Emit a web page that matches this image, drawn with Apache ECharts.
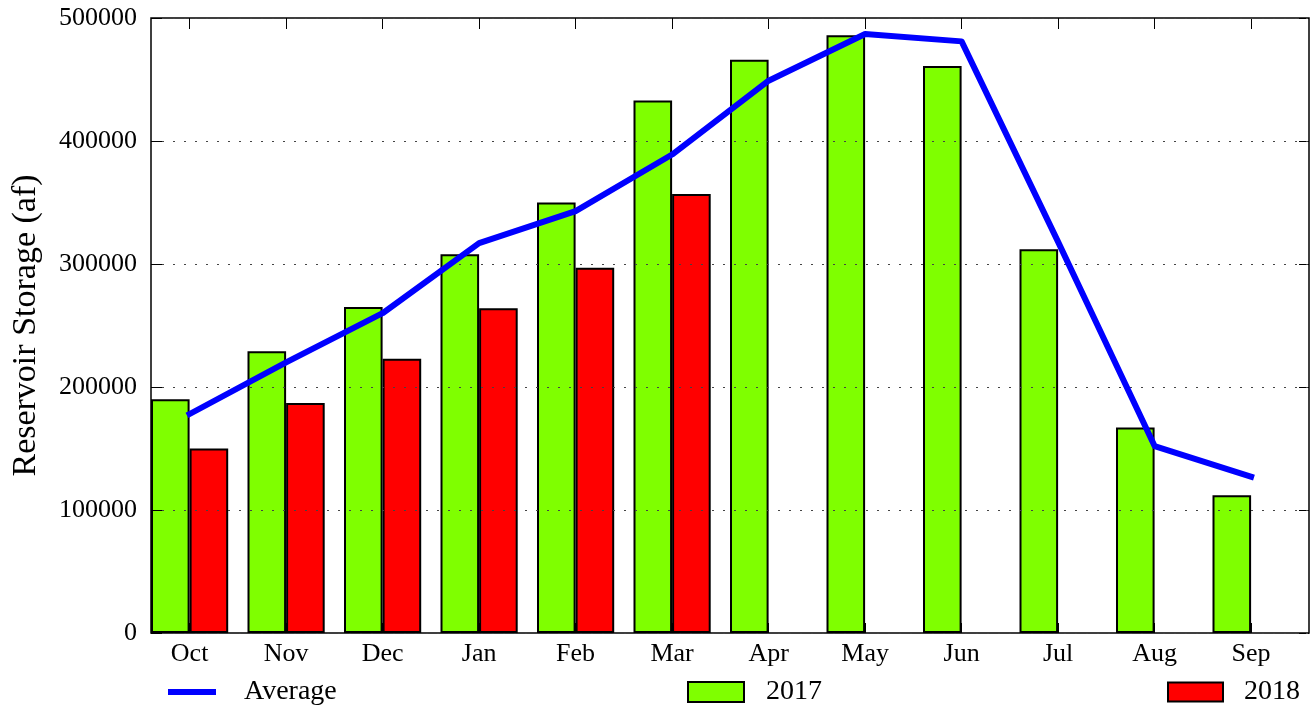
<!DOCTYPE html>
<html>
<head>
<meta charset="utf-8">
<title>Reservoir Storage</title>
<script src="https://cdn.jsdelivr.net/npm/echarts@6/dist/echarts.min.js"></script>
<style>
  html, body { margin: 0; padding: 0; background: #fff; }
  #chart { width: 1313px; height: 706px; }
</style>
</head>
<body>
<div id="chart"></div>
<script>
// Water-year months and monthly reservoir storage (acre-feet)
const months = ['Oct', 'Nov', 'Dec', 'Jan', 'Feb', 'Mar', 'Apr', 'May', 'Jun', 'Jul', 'Aug', 'Sep'];
const storage2017 = [190000, 229000, 265000, 308000, 350000, 433000, 466000, 486000, 461000, 312000, 167000, 112000];
const storage2018 = [150000, 187000, 223000, 264000, 297000, 357000, null, null, null, null, null, null];
const average = [178000, 220000, 260000, 317000, 343000, 389000, 449000, 487000, 481000, 318000, 152000, 127000];
const yTicks = [0, 100000, 200000, 300000, 400000, 500000];

const FONT = '"Liberation Serif", "Times New Roman", serif';
const GREEN = '#7fff00';
const RED = '#ff0000';
const BLUE = '#0000ff';

// Plot frame (grid 0) and a second grid shifted left by a tenth of a
// category so each bar pair starts at the category's left edge.
const frame = { left: 151, right: 4, top: 18, bottom: 73 };
const catW = (1313 - frame.left - frame.right) / months.length;
const shift = catW * 0.1;

const chart = echarts.init(document.getElementById('chart'), null, { renderer: 'canvas' });

const legendBase = {
  top: 673,
  orient: 'horizontal',
  selectedMode: false,
  itemGap: 0,
  textStyle: { fontFamily: FONT, fontSize: 28, color: '#000' }
};

chart.setOption({
  animation: false,
  backgroundColor: '#fff',
  grid: [
    {
      left: frame.left, right: frame.right, top: frame.top, bottom: frame.bottom,
      show: true, borderColor: '#000', borderWidth: 1.5, backgroundColor: 'transparent'
    },
    {
      left: frame.left - shift, right: frame.right + shift, top: frame.top, bottom: frame.bottom,
      show: false
    }
  ],
  legend: [
    Object.assign({}, legendBase, {
      left: 163,
      itemWidth: 48, itemHeight: 6,
      data: [{ name: 'Average', icon: 'rect', itemStyle: { color: BLUE, borderWidth: 0 } }],
      textStyle: Object.assign({}, legendBase.textStyle, { padding: [0, 0, 0, 23] })
    }),
    Object.assign({}, legendBase, {
      left: 682,
      itemWidth: 56, itemHeight: 20,
      data: [{ name: '2017', icon: 'rect' }],
      textStyle: Object.assign({}, legendBase.textStyle, { padding: [0, 0, 0, 17] })
    }),
    Object.assign({}, legendBase, {
      left: 1162,
      itemWidth: 55, itemHeight: 19,
      data: [{ name: '2018', icon: 'rect' }],
      textStyle: Object.assign({}, legendBase.textStyle, { padding: [0, 0, 0, 16] })
    })
  ],
  xAxis: [
    { // frame grid helper axis
      gridIndex: 0, type: 'value', min: 0, max: 12, show: false
    },
    { // month labels and bottom ticks
      gridIndex: 1, type: 'category', position: 'bottom', data: months,
      boundaryGap: true,
      axisLine: { show: false },
      axisTick: { show: true, inside: true, length: 10, alignWithLabel: true, lineStyle: { color: '#000', width: 1 } },
      axisLabel: { fontFamily: FONT, fontSize: 26, color: '#000', margin: 8, interval: 0 },
      splitLine: { show: false }
    },
    { // top ticks
      gridIndex: 1, type: 'category', position: 'top', data: months,
      boundaryGap: true,
      axisLine: { show: false },
      axisTick: { show: true, inside: true, length: 11, alignWithLabel: true, lineStyle: { color: '#000', width: 1 } },
      axisLabel: { show: false },
      splitLine: { show: false }
    }
  ],
  yAxis: [
    {
      gridIndex: 0, type: 'value', position: 'left',
      min: yTicks[0], max: yTicks[yTicks.length - 1], interval: yTicks[1] - yTicks[0],
      z: 3,
      name: 'Reservoir Storage (af)',
      nameLocation: 'middle', nameGap: 108, nameRotate: 90,
      nameTextStyle: { fontFamily: FONT, fontSize: 34, color: '#000' },
      axisLine: { show: false },
      axisTick: { show: true, inside: true, length: 11, lineStyle: { color: '#000', width: 1 } },
      axisLabel: {
        fontFamily: FONT, fontSize: 26, color: '#000', margin: 14,
        formatter: function (v) { return String(v); }
      },
      splitLine: { show: true, lineStyle: { color: '#444', width: 1.2, type: [2, 9] } }
    },
    {
      gridIndex: 0, type: 'value', position: 'right',
      min: yTicks[0], max: yTicks[yTicks.length - 1], interval: yTicks[1] - yTicks[0],
      axisLine: { show: false },
      axisTick: { show: true, inside: true, length: 10, lineStyle: { color: '#000', width: 1 } },
      axisLabel: { show: false },
      splitLine: { show: false }
    },
    {
      gridIndex: 1, type: 'value',
      min: yTicks[0], max: yTicks[yTicks.length - 1], show: false
    }
  ],
  series: [
    {
      name: '2017', type: 'bar', xAxisIndex: 1, yAxisIndex: 2,
      data: storage2017,
      barGap: 0, barCategoryGap: '20%',
      itemStyle: { color: GREEN, borderColor: '#000', borderWidth: 2 },
      z: 2
    },
    {
      name: '2018', type: 'bar', xAxisIndex: 1, yAxisIndex: 2,
      data: storage2018,
      barGap: 0, barCategoryGap: '20%',
      itemStyle: { color: RED, borderColor: '#000', borderWidth: 2 },
      z: 2
    },
    {
      name: 'Average', type: 'line', xAxisIndex: 1, yAxisIndex: 2,
      data: average,
      symbol: 'none',
      lineStyle: { color: BLUE, width: 6, join: 'round', cap: 'square' },
      itemStyle: { color: BLUE },
      z: 5
    }
  ]
});
</script>
</body>
</html>
